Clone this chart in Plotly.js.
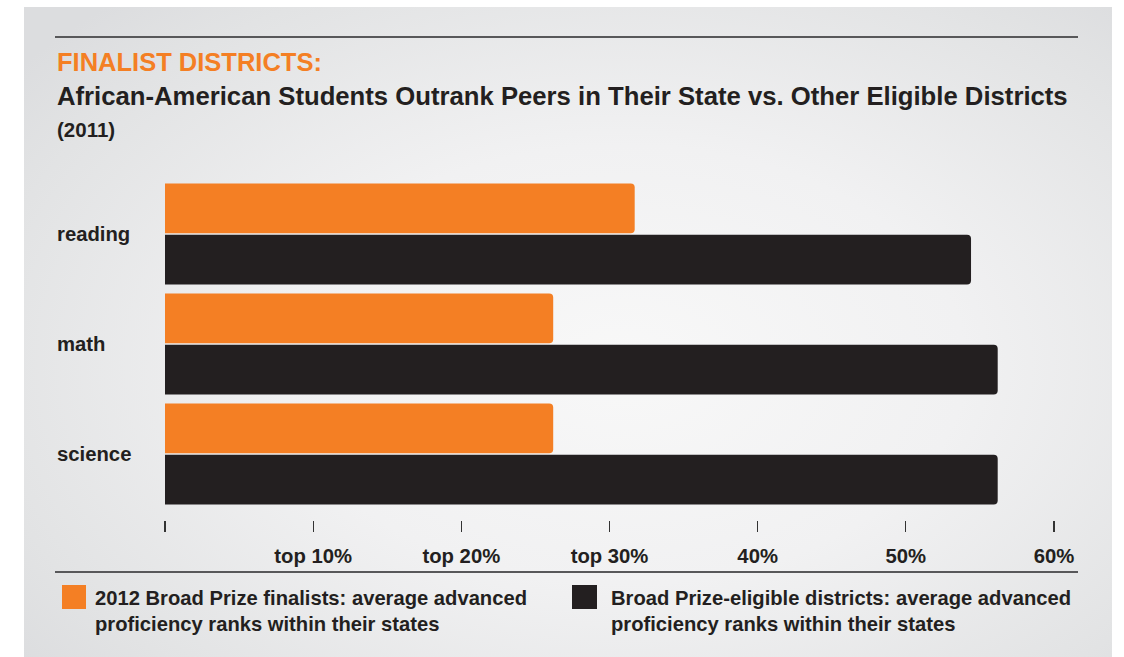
<!DOCTYPE html>
<html>
<head>
<meta charset="utf-8">
<script src="https://cdn.plot.ly/plotly-3.0.1.min.js"></script>
<style>
  html, body { margin: 0; padding: 0; background: #ffffff; }
  #wrap { position: relative; width: 1124px; height: 657px; overflow: hidden; }
  #panel { position: absolute; left: 24px; top: 7px; width: 1088px; height: 650px;
    background: radial-gradient(ellipse 70% 75% at 55% 55%, #f8f8f8 0%, #f1f1f2 45%, #e2e3e4 85%, #dcdddf 100%); }
  #chart { position: absolute; left: 0; top: 0; width: 1124px; height: 657px; }
</style>
</head>
<body>
<div id="wrap"><div id="panel"></div><div id="chart"></div></div>
<script>
// ---- data ----
const categories = ["reading", "math", "science"];
const finalists = [31.7, 26.2, 26.2];          // 2012 Broad Prize finalists
const eligible = [54.4, 56.2, 56.2];           // Broad Prize-eligible districts
const tickValues = [0, 10, 20, 30, 40, 50, 60];
const tickLabels = ["", "top 10%", "top 20%", "top 30%", "40%", "50%", "60%"];
const seriesNames = [
  "2012 Broad Prize finalists: average advanced<br>proficiency ranks within their states",
  "Broad Prize-eligible districts: average advanced<br>proficiency ranks within their states"
];
const heading = "FINALIST DISTRICTS:";
const subtitle = "African-American Students Outrank Peers in Their State vs. Other Eligible Districts";
const yearNote = "(2011)";

// ---- layout helpers ----
const W = 1124, H = 657;
const M = { l: 165, r: 70, t: 179, b: 137 };
const pw = W - M.l - M.r, ph = H - M.t - M.b;
const px = x => (x - M.l) / pw;
const py = y => 1 - (y - M.t) / ph;

const ORANGE = "#f47f24";
const BLACK = "#231f20";
const FONT = "Liberation Sans, Arial, Helvetica, sans-serif";

const traces = [
  { type: "bar", orientation: "h", y: categories, x: finalists, name: seriesNames[0],
    marker: { color: ORANGE }, hoverinfo: "x+y" },
  { type: "bar", orientation: "h", y: categories, x: eligible, name: seriesNames[1],
    marker: { color: BLACK }, hoverinfo: "x+y" }
];

const annotations = [];
annotations.push({ xref: "paper", yref: "paper", x: px(55), y: py(62), xanchor: "left", yanchor: "middle",
  text: "<b>" + heading + "</b>", showarrow: false, font: { family: FONT, size: 25.5, color: ORANGE } });
annotations.push({ xref: "paper", yref: "paper", x: px(55), y: py(96), xanchor: "left", yanchor: "middle",
  text: "<b>" + subtitle + "</b>", showarrow: false, font: { family: FONT, size: 25.7, color: "#231f20" } });
annotations.push({ xref: "paper", yref: "paper", x: px(55), y: py(130), xanchor: "left", yanchor: "middle",
  text: "<b>" + yearNote + "</b>", showarrow: false, font: { family: FONT, size: 20.5, color: "#231f20" } });
categories.forEach(c => {
  annotations.push({ xref: "paper", yref: "y", x: px(55), y: c, xanchor: "left", yanchor: "middle",
    text: "<b>" + c + "</b>", showarrow: false, font: { family: FONT, size: 20.3, color: "#231f20" } });
});
annotations.push({ xref: "paper", yref: "paper", x: px(93), y: py(611), xanchor: "left", yanchor: "middle", align: "left",
  text: "<b>" + seriesNames[0] + "</b>", showarrow: false, font: { family: FONT, size: 20.2, color: "#231f20" } });
annotations.push({ xref: "paper", yref: "paper", x: px(609), y: py(611), xanchor: "left", yanchor: "middle", align: "left",
  text: "<b>" + seriesNames[1] + "</b>", showarrow: false, font: { family: FONT, size: 20.2, color: "#231f20" } });

const shapes = [
  { type: "line", xref: "paper", yref: "paper", x0: px(55), x1: px(1078), y0: py(37), y1: py(37),
    line: { color: "#58585a", width: 2 } },
  { type: "line", xref: "paper", yref: "paper", x0: px(55), x1: px(1078), y0: py(572), y1: py(572),
    line: { color: "#58585a", width: 2 } },
  { type: "rect", xref: "paper", yref: "paper", x0: px(62), x1: px(86), y0: py(585), y1: py(609),
    fillcolor: ORANGE, line: { width: 0 } },
  { type: "rect", xref: "paper", yref: "paper", x0: px(572), x1: px(597), y0: py(585), y1: py(609),
    fillcolor: BLACK, line: { width: 0 } }
];

const layout = {
  width: W, height: H,
  margin: M,
  paper_bgcolor: "rgba(0,0,0,0)",
  plot_bgcolor: "rgba(0,0,0,0)",
  barmode: "group",
  bargap: 0.07,
  bargroupgap: 0.03,
  barcornerradius: 4,
  showlegend: false,
  font: { family: FONT, color: "#231f20" },
  xaxis: {
    range: [0, 60], tickmode: "array", tickvals: tickValues, ticktext: tickLabels,
    ticks: "outside", ticklen: 11, tickwidth: 1.2, tickcolor: "#333333",
    showgrid: false, zeroline: false, showline: false,
    tickfont: { family: FONT, size: 20.3, color: "#231f20", weight: "bold" },
    ticklabelstandoff: 7, fixedrange: true
  },
  yaxis: {
    type: "category", categoryorder: "array", categoryarray: categories,
    range: [2.6, -0.5], autorange: false, showticklabels: false, ticks: "",
    showgrid: false, zeroline: false, showline: false, fixedrange: true
  },
  annotations: annotations,
  shapes: shapes
};

Plotly.newPlot("chart", traces, layout, { displayModeBar: false, staticPlot: true });
</script>
</body>
</html>
